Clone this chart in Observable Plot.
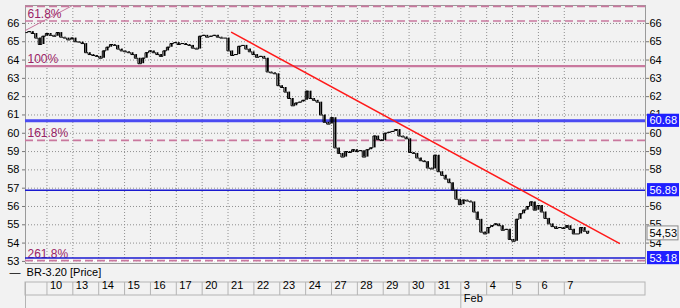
<!DOCTYPE html>
<html><head><meta charset="utf-8">
<script src="https://cdn.jsdelivr.net/npm/d3@7"></script>
<script src="https://cdn.jsdelivr.net/npm/@observablehq/plot@0.6"></script>
<style>
html,body{margin:0;padding:0;background:#f2f2f2;}
#chart svg{display:block;}
</style></head><body><div id="chart"></div>
<script>
// Trading days shown in the header (index = day number on the x scale)
const dayLabels = ["10","13","14","15","16","17","20","21","22","23","24","27","28","29","30","31","3","4","5","6","7"];
const monthLabels = ["Feb"];
const monthStartDay = [16];
const yTicks = [53,54,55,56,57,58,59,60,61,62,63,64,65,66];
// right-hand ticks that are not hidden behind the value boxes
const yTicksRight = [54,55,56,58,59,60,61,62,63,64,65,66];

// Intraday closes (BR-3.20), left to right
const closes = [
65.5,65.55,65.45,65.2,64.85,65.3,65.45,65.35,65.3,65.5,
65.25,65.2,65.1,65.2,65.0,64.98,64.9,64.4,64.3,64.25,
64.2,64.1,64.5,64.7,64.85,64.8,64.6,64.5,64.45,64.4,
64.3,64.1,63.8,64.1,64.4,64.5,64.4,64.3,64.2,64.5,
64.7,64.9,64.95,64.85,64.9,64.85,64.8,64.65,64.6,65.3,
65.35,65.25,65.3,65.35,65.25,65.2,65.2,64.5,64.25,64.3,
64.75,64.8,64.6,64.45,64.3,64.15,64.2,64.1,63.35,63.3,
63.25,62.6,62.5,62.25,61.9,61.5,61.65,61.7,61.8,62.3,
61.9,61.8,61.7,61.0,60.6,60.5,60.85,59.2,58.9,58.7,
59.0,58.95,59.1,59.0,59.05,58.7,59.1,59.2,59.85,59.65,
59.6,60.0,60.05,60.1,60.2,59.85,59.8,59.7,58.95,58.9,
58.65,58.5,58.45,58.1,58.05,58.8,57.9,57.7,57.5,57.3,
56.9,56.4,56.1,56.35,56.3,56.25,55.7,55.3,54.6,54.5,
54.85,54.95,55.05,54.95,54.7,54.75,54.2,54.1,55.3,55.6,
55.8,56.0,56.25,55.8,56.05,55.7,55.35,55.05,54.9,54.8,
54.85,54.8,54.95,54.75,54.5,54.5,54.85,54.65,54.53
];
const firstBarDay = -0.82, lastBarDay = 20.93;

// Fibonacci levels
const fibValues = [66.93, 66.13, 63.67, 59.61, 53.04];
const fibLabels = ["", "61.8%", "100%", "161.8%", "261.8%"];
// Fibonacci fan line
const fanDays = [-0.83, 0.99];
const fanValues = [65.62, 66.98];
// Horizontal levels
const levelValues = [60.68, 56.89, 53.18];
const levelLabels = ["60.68", "56.89", "53.18"];
// Trend line
const trendDays = [7.14, 22.13];
const trendValues = [65.51, 53.98];
// Last price
const lastPrice = 54.53;
const lastPriceLabel = "54,53";
const seriesName = "BR-3.20 [Price]";

const bars = closes.map((c, i) => ({
  t: firstBarDay + i * (lastBarDay - firstBarDay) / (closes.length - 1),
  o: i ? closes[i - 1] : c,
  c
}));
const fib = fibValues.map((v, i) => ({v, label: fibLabels[i]}));
const levels = levelValues.map((v, i) => ({v, label: levelLabels[i]}));
const fan = fanDays.map((d, i) => ({d, v: fanValues[i]}));
const trend = trendDays.map((d, i) => ({d, v: trendValues[i]}));
const days = dayLabels.map((label, i) => ({d: i, label}));
const months = monthLabels.map((label, i) => ({d: monthStartDay[i], label}));
const xLeft = -0.83, xRight = 23.14;

const fibColor = "#c9789e", fibText = "#9a2466";

const plot = Plot.plot({
  width: 680, height: 308,
  marginLeft: 25, marginRight: 35, marginTop: 5, marginBottom: 45,
  style: {background: "#f2f2f2", fontFamily: "'Liberation Sans', Arial, sans-serif", fontSize: "11px", color: "#000"},
  x: {domain: [xLeft, xRight], axis: null},
  y: {domain: [52.885, 66.98], axis: null},
  marks: [
    // grid
    Plot.ruleY(yTicks, {stroke: "#8f8f8f", strokeDasharray: "1,2"}),
    Plot.ruleX(days, {x: "d", stroke: "#8f8f8f", strokeDasharray: "1,2"}),
    Plot.frame({stroke: "#9a9a9a"}),
    // fibonacci
    Plot.ruleY(fib.filter(f => f.label === "261.8%"), {y: "v", stroke: "#ffffff", strokeWidth: 2}),
    Plot.ruleY(fib.filter(f => f.label !== "100%"), {y: "v", stroke: fibColor, strokeWidth: 1.6, strokeDasharray: "8,4"}),
    Plot.ruleY(fib.filter(f => f.label === "100%"), {y: "v", stroke: fibColor, strokeWidth: 2.4}),
    Plot.line(fan, {x: "d", y: "v", stroke: fibColor, strokeWidth: 1}),
    Plot.text(fib.filter(f => f.label), {y: "v", text: "label", frameAnchor: "left", dx: 2, dy: -7, textAnchor: "start", fill: fibText, fontSize: 12}),
    // horizontal levels
    Plot.ruleY(levels, {y: "v", stroke: (d, i) => i === 0 ? "#4b4bf2" : "#1a1ad0", strokeWidth: (d, i) => i === 0 ? 3 : 1.5}),
    // trend
    Plot.line(trend, {x: "d", y: "v", stroke: "#ff1a1a", strokeWidth: 1.5}),
    // price
    Plot.line(bars, {x: "t", y: "c", stroke: "#000", strokeWidth: 1, curve: "step"}),
    Plot.ruleX(bars, {x: "t", y1: "o", y2: "c", stroke: "#000", strokeWidth: 1.8}),
    // axes
    Plot.axisY(yTicks, {anchor: "left", tickSize: 3, tickPadding: 3, fontSize: 11, stroke: "#777"}),
    Plot.axisY(yTicksRight, {anchor: "right", tickSize: 3, tickPadding: 1, fontSize: 11, stroke: "#777"}),
    // right value boxes
    Plot.rect(levels, {y1: d => d.v - 0.36, y2: d => d.v + 0.36, insetLeft: 2, insetRight: -34, x1: () => xRight, x2: () => xRight, fill: "#1f1fff"}),
    Plot.text(levels, {y: "v", text: "label", frameAnchor: "right", dx: 4, textAnchor: "start", fill: "#fff", fontSize: 11}),
    Plot.rect([lastPrice], {y1: d => d - 0.38, y2: d => d + 0.38, x1: () => xRight, x2: () => xRight, insetLeft: 2, insetRight: -33, fill: "#f7f7f7", stroke: "#8a8a8a"}),
    Plot.text([lastPriceLabel], {y: () => lastPrice, text: d => d, frameAnchor: "right", dx: 4, textAnchor: "start", fill: "#000", fontSize: 11}),
    // legend
    Plot.text([seriesName], {text: d => "\u2014  " + d, frameAnchor: "bottom-left", dx: -16, dy: 12, textAnchor: "start", fontSize: 11}),
    // header table
    Plot.rect([0], {x1: () => xLeft, x2: () => xRight, insetTop: 277, insetBottom: -32, fill: "none", stroke: "#b4b4b4"}),
    Plot.ruleX([xLeft], {insetTop: 277, insetBottom: -45, stroke: "#b4b4b4"}),
    Plot.ruleX(days, {x: "d", insetTop: 277, insetBottom: -32, stroke: "#b4b4b4"}),
    Plot.ruleX(months, {x: "d", insetTop: 290, insetBottom: -45, stroke: "#b4b4b4"}),
    Plot.text(days, {x: "d", text: "label", frameAnchor: "bottom", dy: 25, dx: 3, textAnchor: "start", fontSize: 11}),
    Plot.text(months, {x: "d", text: "label", frameAnchor: "bottom", dy: 38, dx: 3, textAnchor: "start", fontSize: 11})
  ]
});
document.getElementById("chart").appendChild(plot);
</script></body></html>
